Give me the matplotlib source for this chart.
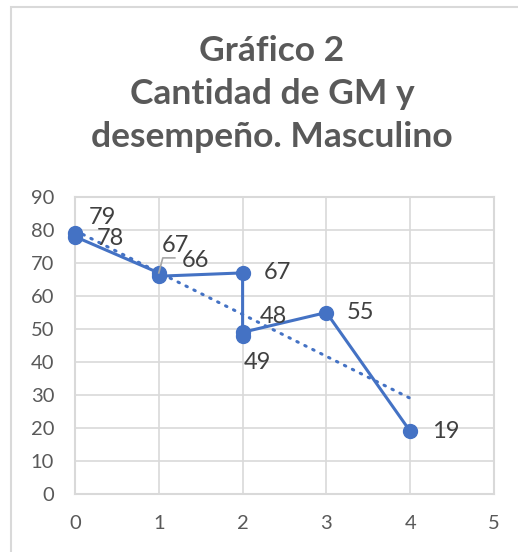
import matplotlib
matplotlib.use("Agg")
import matplotlib.pyplot as plt
from matplotlib.patches import Rectangle
import numpy as np

# data
x_vals = [0, 0, 1, 1, 2, 2, 2, 3, 4]
y_vals = [79, 78, 67, 66, 67, 48, 49, 55, 19]
# label offsets in pixels (dx, dy) relative to each point
label_offsets = [(27, 16), (35, -2), (17, 27), (37, 16), (35, 0), (31, 19), (15, -30), (34, 0), (36, 0)]
title_lines = ["Gráfico 2", "Cantidad de GM y", "desempeño. Masculino"]

blue = "#4472C4"
grid_c = "#D9D9D9"
text_c = "#595959"
label_c = "#404040"

plt.rcParams['font.family'] = ['Lato', 'DejaVu Sans']

W, H = 518, 552
fig = plt.figure(figsize=(W / 100, H / 100), dpi=100)

# outer chart border (only left/top visible in the crop)
fig.patches.append(Rectangle((11 / W, -0.1), 1.2, 1 - 7 / H + 0.1, transform=fig.transFigure,
                             fill=False, edgecolor=grid_c, linewidth=1.5))

ax = fig.add_axes([75 / W, 1 - 494 / H, (494 - 75) / W, (494 - 197) / H])
ax.set_xlim(0, 5)
ax.set_ylim(0, 90)
ax.set_xticks(range(0, 6))
ax.set_yticks(range(0, 91, 10))
ax.grid(True, color=grid_c, linewidth=1.2)
ax.set_axisbelow(True)
for s in ax.spines.values():
    s.set_color(grid_c)
    s.set_linewidth(1.5)
ax.tick_params(length=0, colors=text_c, labelsize=14.5)
ax.tick_params(axis='y', pad=15)
ax.tick_params(axis='x', pad=15)

# linear trendline
coef = np.polyfit(x_vals, y_vals, 1)
tx = np.array([min(x_vals), max(x_vals)])
ax.plot(tx, np.polyval(coef, tx), color=blue, linewidth=2.2, linestyle=(0, (0.5, 2.4)),
        dash_capstyle='round', clip_on=False, zorder=2)

ax.plot(x_vals, y_vals, color=blue, linewidth=2.2, marker='o', markersize=10, clip_on=False, zorder=3)

for xv, yv, (dx, dy) in zip(x_vals, y_vals, label_offsets):
    ax.annotate(str(yv), (xv, yv), xytext=(dx * 0.72, dy * 0.72), textcoords='offset points',
                ha='center', va='center', fontsize=17, color=label_c, zorder=4)

# leader line for the first "67" label
p = ax.transData.transform((1, 67))
pts = [(p[0], p[1]), (p[0] + 4, p[1] + 15), (p[0] + 16, p[1] + 15)]
px = [fig.transFigure.inverted().transform(q) for q in pts]
fig.add_artist(plt.Line2D([q[0] for q in px], [q[1] for q in px], color="#A6A6A6",
                          linewidth=1.2, transform=fig.transFigure))

baselines = [61, 104, 147]
for t, b in zip(title_lines, baselines):
    fig.text(272 / W, 1 - b / H, t, ha='center', va='baseline', fontsize=25.5,
             fontweight='bold', color=text_c)

fig.savefig("out.png", dpi=100)
